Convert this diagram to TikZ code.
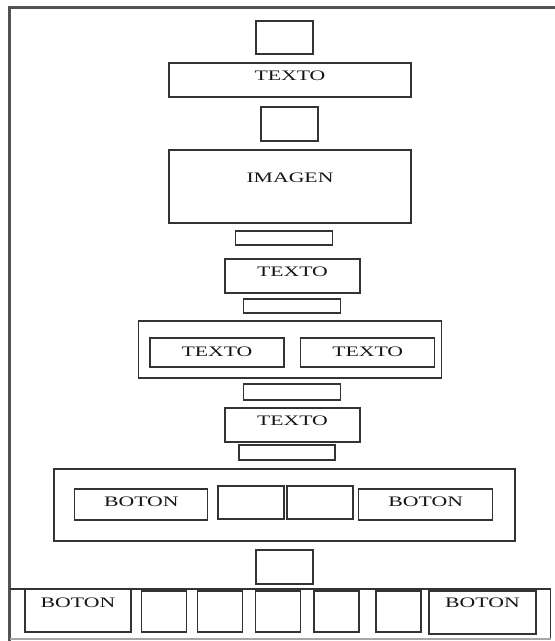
\documentclass[tikz,border=0pt]{standalone}
\usepackage{fontspec}
\setmainfont[FakeStretch=1.5]{Liberation Serif}
\begin{document}
\begin{tikzpicture}[x=1pt,y=-1pt,
  box/.style={draw=black!80, line width=1.3pt, inner sep=0pt, outer sep=0pt},
  lbl/.style={inner sep=0pt, text=black!92, font=\fontsize{14.5}{17}\selectfont},
  frameline/.style={draw=black!68, line width=2.2pt}]
\useasboundingbox (0,0) rectangle (555,641);

% page frame (open on the right)
\coordinate (fb) at (9.5,641);
\coordinate (ftl) at (9.5,7.5);
\coordinate (ftr) at (555,7.5);
\draw[frameline] (fb) -- (ftl) -- (ftr);

% header
\node[box, minimum width=57pt, minimum height=33pt] (sqA) at (284.4,37.5) {};
\node[box, minimum width=242pt, minimum height=34pt] (bar1) at (290,80) {};
\node[lbl] (bar1t) at (290,75.5) {TEXTO};
\node[box, minimum width=57pt, minimum height=34pt] (sqB) at (289.5,124) {};
\node[box, minimum width=242pt, minimum height=73pt] (img) at (290,186.5) {};
\node[lbl] (imgt) at (290,177.5) {IMAGEN};

% middle column
\node[box, minimum width=97pt, minimum height=14pt] (thin1) at (284,238) {};
\node[box, minimum width=135pt, minimum height=34pt] (t2) at (292.5,276) {};
\node[lbl] (t2t) at (292.5,271.5) {TEXTO};
\node[box, minimum width=97pt, minimum height=14pt] (thin2) at (292.3,306) {};
\node[box, minimum width=303pt, minimum height=57pt] (cont1) at (289.8,349.5) {};
\node[box, minimum width=134pt, minimum height=29pt] (t3a) at (217,352.5) {};
\node[lbl] (t3at) at (217,351.5) {TEXTO};
\node[box, minimum width=134pt, minimum height=29pt] (t3b) at (367.7,352.5) {};
\node[lbl] (t3bt) at (367.7,351.5) {TEXTO};
\node[box, minimum width=97pt, minimum height=16pt] (thin3) at (292.3,392) {};
\node[box, minimum width=135pt, minimum height=34pt] (t4) at (292.5,425) {};
\node[lbl] (t4t) at (292.5,421) {TEXTO};
\node[box, minimum width=96pt, minimum height=15pt] (thin4) at (287,452.5) {};

% button row
\node[box, minimum width=461pt, minimum height=72pt] (cont2) at (284.4,505) {};
\node[box, minimum width=133pt, minimum height=31pt] (b1) at (141.3,504.5) {};
\node[lbl] (b1t) at (141.3,501.5) {BOTON};
\node[box, minimum width=66pt, minimum height=33pt] (s1) at (251,502.5) {};
\node[box, minimum width=66pt, minimum height=33pt] (s2) at (320,502.5) {};
\node[box, minimum width=134pt, minimum height=31pt] (b2) at (425.7,504.5) {};
\node[lbl] (b2t) at (425.7,501.5) {BOTON};
\node[box, minimum width=57pt, minimum height=34pt] (sqC) at (284.4,567) {};

% bottom bar
\coordinate (bbl) at (9.5,589);
\coordinate (bbr) at (550.5,589);
\coordinate (bbrb) at (550.5,639);
\coordinate (bblb) at (9.5,639);
\draw[box] (bbl) -- (bbr) -- (bbrb);
\draw[draw=black!35, line width=1.1pt] (bbrb) -- (bblb);
\node[box, minimum width=106pt, minimum height=43pt] (bb1) at (78,610.5) {};
\node[lbl] (bb1t) at (78,602.5) {BOTON};
\node[box, minimum width=45pt, minimum height=41pt] (q1) at (164,611.5) {};
\node[box, minimum width=45pt, minimum height=41pt] (q2) at (220.2,611.5) {};
\node[box, minimum width=45pt, minimum height=41pt] (q3) at (278.2,611.5) {};
\node[box, minimum width=45pt, minimum height=41pt] (q4) at (336.4,611.5) {};
\node[box, minimum width=45pt, minimum height=41pt] (q5) at (398.4,611.5) {};
\node[box, minimum width=107pt, minimum height=43pt] (bb2) at (482.5,612.5) {};
\node[lbl] (bb2t) at (482.5,602.5) {BOTON};
\end{tikzpicture}
\end{document}
